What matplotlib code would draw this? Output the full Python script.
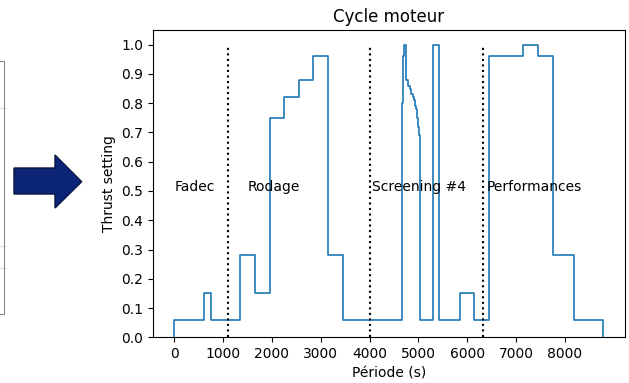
import matplotlib.pyplot as plt
from matplotlib.patches import Polygon
from matplotlib.lines import Line2D

# step changes: time (s) and the thrust level that starts there
times = [0, 600, 750, 1350, 1650, 1950, 2250, 2550, 2850, 3150, 3450,
         4660, 4690, 4710, 4750, 4790, 4820, 4850, 4880, 4910, 4930, 4950,
         4975, 5000, 5020, 5035, 5310, 5430, 5850, 6150, 6450, 7150, 7450,
         7750, 8200, 8790]
levels = [0.06, 0.15, 0.06, 0.28, 0.15, 0.75, 0.82, 0.88, 0.96, 0.28, 0.06,
          0.80, 0.96, 1.0, 0.88, 0.86, 0.85, 0.83, 0.82, 0.81, 0.79, 0.78,
          0.75, 0.72, 0.69, 0.06, 1.0, 0.06, 0.15, 0.06, 0.96, 1.0, 0.96,
          0.28, 0.06, 0.0]

phase_limits = [1100, 4000, 6330]
phase_names = ['Fadec', 'Rodage', 'Screening #4', 'Performances']
phase_text_x = [0, 1500, 4050, 6400]

W, H = 629, 383
fig = plt.figure(figsize=(W / 100, H / 100), dpi=100)
ax = fig.add_axes([153 / W, 1 - 337.3 / H, (624.7 - 153) / W, (337.3 - 30) / H])

ax.plot([0] + times, [0] + levels, drawstyle='steps-post', color='C0', lw=1.2)
for xl in phase_limits:
    ax.vlines(xl, 0, 1, colors='black', linestyles=':', lw=1.5)
for name, xt in zip(phase_names, phase_text_x):
    ax.text(xt, 0.5, name)

ax.set_xlim(-439, 9229)
ax.set_ylim(0, 1.05)
ax.set_yticks([i / 10 for i in range(11)])
ax.set_xticks(range(0, 9000, 1000))
ax.set_title('Cycle moteur')
ax.set_xlabel('Période (s)')
ax.set_ylabel('Thrust setting')

# blue arrow on the left of the slide
def fp(x, y):
    return (x / W, 1 - y / H)

arrow = [fp(14, 168), fp(55, 168), fp(55, 155), fp(81.7, 181.7),
         fp(55, 208), fp(55, 194), fp(14, 194)]
fig.patches.append(Polygon(arrow, closed=True, transform=fig.transFigure,
                           facecolor='#0c2577', edgecolor='#071540', lw=1))

# piece of the previous chart, cut at the left edge
frame_x = [0, 4, 4, 0]
frame_y = [61, 61, 314, 314]
fig.lines.append(Line2D([x / W for x in frame_x], [1 - y / H for y in frame_y],
                        transform=fig.transFigure, color='#888888', lw=0.8))
for gy in [108, 246, 268]:
    fig.lines.append(Line2D([0, 6 / W], [1 - gy / H] * 2, transform=fig.transFigure,
                            color='#aaaaaa', lw=0.6, linestyle=':'))

fig.savefig('out.png', dpi=100)
